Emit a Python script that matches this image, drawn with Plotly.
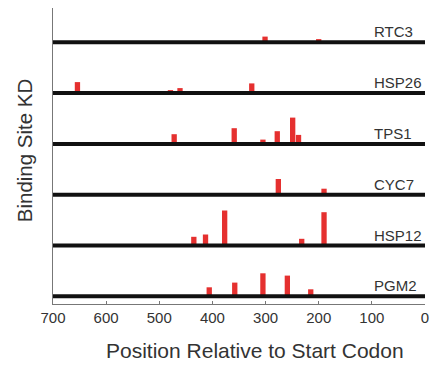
import plotly.graph_objects as go

# ---- data ----
genes = ["PGM2", "HSP12", "CYC7", "TPS1", "HSP26", "RTC3"]  # bottom -> top
positions = {
    "RTC3": [301, 200],
    "HSP26": [654, 479, 461, 326],
    "TPS1": [472, 359, 305, 278, 249, 238],
    "CYC7": [276, 190],
    "HSP12": [435, 413, 377, 232, 190],
    "PGM2": [406, 358, 305, 259, 215],
}
kd = {
    "RTC3": [5.7, 3.2],
    "HSP26": [11.0, 3.0, 5.0, 9.7],
    "TPS1": [9.7, 15.7, 4.3, 12.7, 26.3, 9.0],
    "CYC7": [15.7, 6.0],
    "HSP12": [8.7, 11.0, 35.0, 6.7, 33.3],
    "PGM2": [9.0, 13.7, 23.0, 20.7, 7.0],
}
x_ticks = [700, 600, 500, 400, 300, 200, 100, 0]

# ---- layout constants ----
ROW = 50.8
W, H = 437, 366
ML, MR, MT, MB = 53, 9, 8, 62
RED = "#e5302f"
TXT = "#333333"
FONT = "Liberation Sans, Arial, sans-serif"

fig = go.Figure()

for i, g in enumerate(genes):
    base = i * ROW
    fig.add_trace(go.Bar(
        x=positions[g], y=kd[g], base=[base] * len(kd[g]),
        width=10, marker=dict(color=RED, line=dict(width=0)),
        showlegend=False, hoverinfo="skip",
    ))

for i, g in enumerate(genes):
    base = i * ROW
    fig.add_trace(go.Scatter(
        x=[700, 0], y=[base, base], mode="lines",
        line=dict(color="#111111", width=4),
        showlegend=False, hoverinfo="skip", cliponaxis=False,
    ))
    fig.add_annotation(
        x=100, y=base, xref="x", yref="y", text=g, showarrow=False,
        xanchor="left", yanchor="bottom", yshift=0,
        font=dict(family=FONT, size=15, color=TXT),
    )

plot_w = W - ML - MR
plot_h = H - MT - MB

fig.add_annotation(
    x=(257 - ML) / plot_w, y=-(350 - MT - plot_h) / plot_h,
    xref="paper", yref="paper", text="Position Relative to Start Codon",
    showarrow=False, xanchor="center", yanchor="middle",
    font=dict(family=FONT, size=21, color=TXT),
)
fig.add_annotation(
    x=(24 - ML) / plot_w, y=1 - (150 - MT) / plot_h,
    xref="paper", yref="paper", text="Binding Site KD", textangle=-90,
    showarrow=False, xanchor="center", yanchor="middle",
    font=dict(family=FONT, size=20.5, color=TXT),
)

fig.update_layout(
    width=W, height=H,
    margin=dict(l=ML, r=MR, t=MT, b=MB, pad=0),
    plot_bgcolor="white", paper_bgcolor="white",
    barmode="overlay",
    font=dict(family=FONT, color=TXT),
)
fig.update_xaxes(
    range=[700, 0], tickvals=x_ticks, ticktext=[str(t) for t in x_ticks],
    ticks="inside", ticklen=3, tickcolor="#777777", tickwidth=1,
    showline=True, linecolor="#777777", linewidth=1.2,
    showgrid=False, zeroline=False,
    tickfont=dict(family=FONT, size=15, color=TXT),
)
fig.update_yaxes(
    range=[-7.7, 5 * ROW + 34.3], showticklabels=False, ticks="",
    showline=True, linecolor="#777777", linewidth=1.2,
    showgrid=False, zeroline=False,
)

fig.write_html("out.html")
